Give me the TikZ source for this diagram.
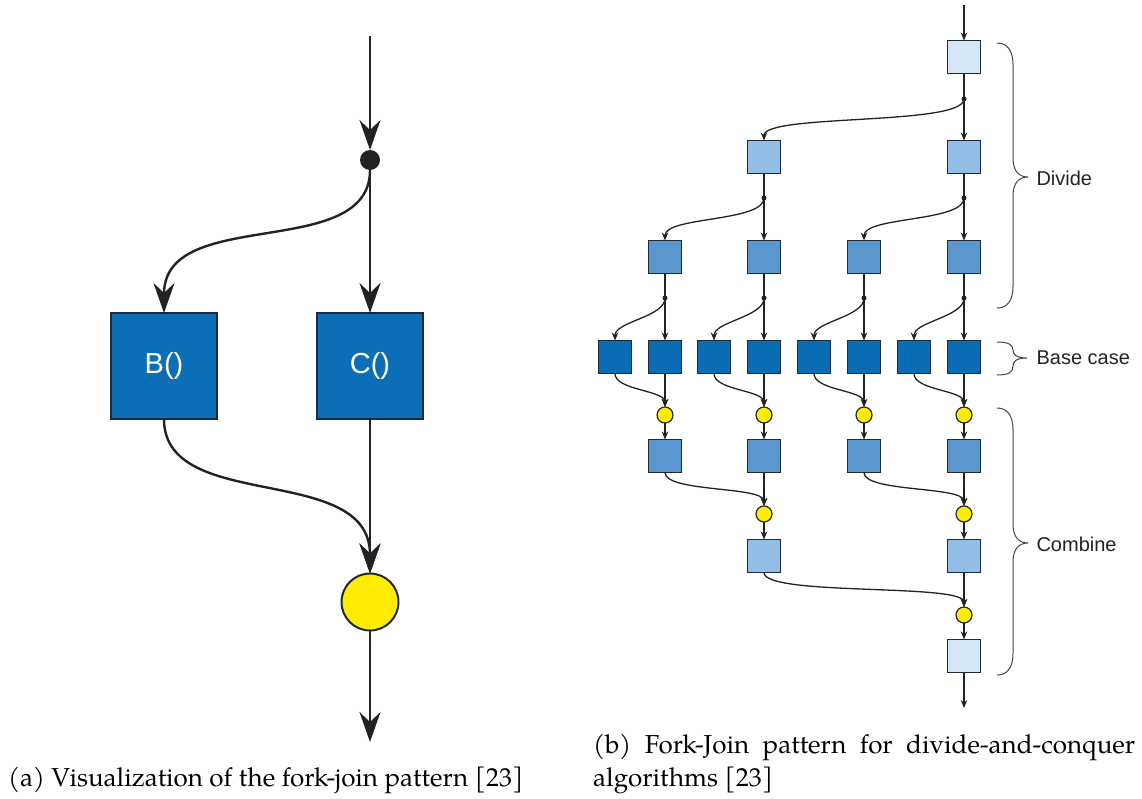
\documentclass[tikz,border=0pt]{standalone}
\usepackage{fontspec}
\setmainfont{Liberation Sans}
\newfontfamily\capfont{TeX Gyre Pagella}
\usetikzlibrary{arrows.meta}
\definecolor{lightest}{HTML}{D5E7F7}
\definecolor{lightb}{HTML}{93BFE7}
\definecolor{medb}{HTML}{5A97CF}
\definecolor{darkb}{HTML}{0A6CB5}
\definecolor{bigb}{HTML}{0B6EB6}
\definecolor{yel}{HTML}{FFEC00}
\definecolor{edge}{HTML}{1E2A38}
\definecolor{ink}{HTML}{222222}
\definecolor{bracec}{HTML}{444444}
\begin{document}
\begin{tikzpicture}[x=1pt,y=-1pt,
  sbox/.style={draw=edge, line width=1.3pt, minimum size=33pt, inner sep=0pt, outer sep=0pt},
  b0/.style={sbox, fill=lightest},
  b1/.style={sbox, fill=lightb},
  b2/.style={sbox, fill=medb},
  b3/.style={sbox, fill=darkb},
  sdot/.style={circle, fill=ink, minimum size=5pt, inner sep=0pt, outer sep=0pt},
  ycirc/.style={circle, draw=edge, line width=1.2pt, fill=yel, minimum size=16pt, inner sep=0pt, outer sep=0pt},
  rc/.style={draw=ink, line width=1.3pt, -{Stealth[length=8pt,width=6.5pt,inset=2.5pt]}},
  rl/.style={draw=ink, line width=1.3pt},
  bigbox/.style={draw=edge, line width=2pt, fill=bigb, minimum size=106pt, inner sep=0pt, outer sep=0pt,
    text=white, font=\fontsize{29}{34}\selectfont},
  bdot/.style={circle, fill=ink, minimum size=20pt, inner sep=0pt, outer sep=0pt},
  bcirc/.style={circle, draw=edge, line width=2pt, fill=yel, minimum size=57pt, inner sep=0pt, outer sep=0pt},
  lc/.style={draw=ink, line width=2.4pt, -{Stealth[length=30pt,width=21pt,inset=10pt]}},
  lbl/.style={anchor=west, text=ink, font=\fontsize{20}{24}\selectfont},
  captxt/.style={anchor=base west, inner sep=0pt, font=\capfont\fontsize{26}{32}\selectfont},
  brc/.style={draw=bracec, line width=1pt}
]
\path[use as bounding box] (0,0) rectangle (1142,798);

% ---------------- (a) ----------------
\coordinate (ain) at (370,36);
\node[bdot] (fork) at (370,160) {};
\node[bigbox] (B) at (164,366) {B()};
\node[bigbox] (C) at (370,366) {C()};
\node[bcirc] (join) at (370,602) {};
\coordinate (aout) at (370,742);

\draw[lc] (ain) -- (fork.north);
\draw[lc] (fork.south) -- (C.north);
\draw[lc] (fork.south) to[out=-90,in=90,out distance=92pt,in distance=108pt] (B.north);
\draw[lc] (C.south) -- (join.north);
\draw[lc] (B.south) to[out=-90,in=90,out distance=95pt,in distance=112pt] (join.north);
\draw[lc] (join.south) -- (aout);

% ---------------- (b) ----------------
\coordinate (bin) at (964,5);
\node[b0] (T) at (964,57) {};
\node[sdot] (d1) at (964,99) {};
\node[b1] (L2a) at (764,157) {};
\node[b1] (L2b) at (964,157) {};
\node[sdot] (d2a) at (764,198) {};
\node[sdot] (d2b) at (964,198) {};
\node[b2] (M3a) at (665,257) {};
\node[b2] (M3b) at (764,257) {};
\node[b2] (M3c) at (864,257) {};
\node[b2] (M3d) at (964,257) {};
\node[sdot] (d3a) at (665,298) {};
\node[sdot] (d3b) at (764,298) {};
\node[sdot] (d3c) at (864,298) {};
\node[sdot] (d3d) at (964,298) {};
\node[b3] (B1) at (615,357) {};
\node[b3] (B2) at (665,357) {};
\node[b3] (B3) at (714,357) {};
\node[b3] (B4) at (764,357) {};
\node[b3] (B5) at (814,357) {};
\node[b3] (B6) at (864,357) {};
\node[b3] (B7) at (914,357) {};
\node[b3] (B8) at (964,357) {};
\node[ycirc] (y1a) at (665,415) {};
\node[ycirc] (y1b) at (764,415) {};
\node[ycirc] (y1c) at (864,415) {};
\node[ycirc] (y1d) at (964,415) {};
\node[b2] (C1a) at (665,456) {};
\node[b2] (C1b) at (764,456) {};
\node[b2] (C1c) at (864,456) {};
\node[b2] (C1d) at (964,456) {};
\node[ycirc] (y2a) at (764,514) {};
\node[ycirc] (y2b) at (964,514) {};
\node[b1] (C2a) at (764,556) {};
\node[b1] (C2b) at (964,556) {};
\node[ycirc] (y3) at (964,615) {};
\node[b0] (F) at (964,656) {};
\coordinate (bout) at (964,708);

\draw[rc] (bin) -- (T.north);
\draw[rl] (T.south) -- (d1.center);
\draw[rc] (d1.center) -- (L2b.north);
\draw[rc] (d1.center) to[out=-90,in=90,distance=27pt] (L2a.north);

\foreach \p/\d/\l/\r in {L2a/d2a/M3a/M3b, L2b/d2b/M3c/M3d}{
  \draw[rl] (\p.south) -- (\d.center);
  \draw[rc] (\d.center) -- (\r.north);
  \draw[rc] (\d.center) to[out=-90,in=90,distance=24pt] (\l.north);
}
\foreach \p/\d/\l/\r in {M3a/d3a/B1/B2, M3b/d3b/B3/B4, M3c/d3c/B5/B6, M3d/d3d/B7/B8}{
  \draw[rl] (\p.south) -- (\d.center);
  \draw[rc] (\d.center) -- (\r.north);
  \draw[rc] (\d.center) to[out=-90,in=90,distance=19pt] (\l.north);
}
\foreach \l/\r/\y/\c in {B1/B2/y1a/C1a, B3/B4/y1b/C1b, B5/B6/y1c/C1c, B7/B8/y1d/C1d}{
  \draw[rc] (\r.south) -- (\y.north);
  \draw[rc] (\l.south) to[out=-90,in=90,distance=17pt] (\y.north);
  \draw[rc] (\y.south) -- (\c.north);
}
\foreach \l/\r/\y/\c in {C1a/C1b/y2a/C2a, C1c/C1d/y2b/C2b}{
  \draw[rc] (\r.south) -- (\y.north);
  \draw[rc] (\l.south) to[out=-90,in=90,distance=20pt] (\y.north);
  \draw[rc] (\y.south) -- (\c.north);
}
\draw[rc] (C2b.south) -- (y3.north);
\draw[rc] (C2a.south) to[out=-90,in=90,distance=24pt] (y3.north);
\draw[rc] (y3.south) -- (F.north);
\draw[rc] (F.south) -- (bout);

% braces
\draw[brc] (997,43) .. controls (1007,43) and (1013,50) .. (1013,65) -- (1013,158)
  .. controls (1013,170) and (1018,177) .. (1028,177)
  .. controls (1018,177) and (1013,184) .. (1013,196) -- (1013,286)
  .. controls (1013,301) and (1007,308) .. (997,308);
\draw[brc] (997,342) .. controls (1009,342) and (1013,345) .. (1013,350)
  .. controls (1013,355) and (1017,358) .. (1027,358)
  .. controls (1017,358) and (1013,361) .. (1013,366)
  .. controls (1013,372) and (1009,375) .. (997,375);
\draw[brc] (997,408) .. controls (1007,408) and (1013,415) .. (1013,430) -- (1013,524)
  .. controls (1013,536) and (1018,543) .. (1028,543)
  .. controls (1018,543) and (1013,550) .. (1013,562) -- (1013,653)
  .. controls (1013,668) and (1007,675) .. (997,675);

\node[lbl] (tdiv) at (1033,178) {Divide};
\node[lbl] (tbase) at (1033,358) {Base case};
\node[lbl] (tcomb) at (1033,544) {Combine};

% captions
\node[captxt] (capa) at (8,786) {(a) Visualization of the fork-join pattern [23]};
\node[captxt] (capb1) at (593,753) {\makebox[542pt][s]{(b) Fork-Join pattern for divide-and-conquer}};
\node[captxt] (capb2) at (593,786) {algorithms [23]};
\end{tikzpicture}
\end{document}
